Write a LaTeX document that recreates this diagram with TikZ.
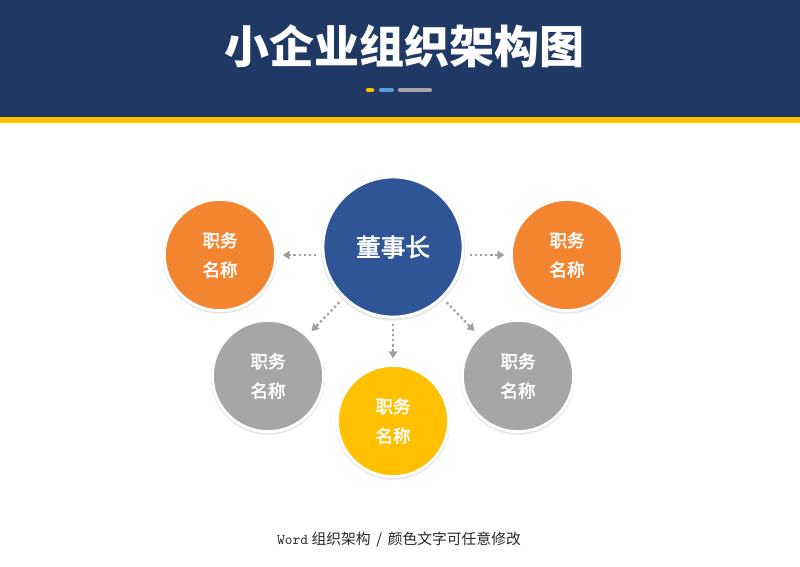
\documentclass[tikz,border=0pt]{standalone}
\usepackage{fontspec}
\setmainfont{Noto Sans CJK SC}
\newfontfamily\cjkmed[FakeBold=2.5]{Noto Sans CJK SC}
\usetikzlibrary{arrows.meta,shadows}

\definecolor{navy}{RGB}{31,56,100}
\definecolor{gold}{RGB}{255,192,0}
\definecolor{chairblue}{RGB}{47,85,151}
\definecolor{skyC}{RGB}{91,155,213}
\definecolor{orangeC}{RGB}{243,132,48}
\definecolor{grayC}{RGB}{166,166,166}
\definecolor{lineC}{RGB}{160,160,160}

\begin{document}
\begin{tikzpicture}[x=0.025cm, y=-0.025cm,
    post/.style={circle, draw=white, line width=2pt, minimum size=2.78cm,
      text=white, font=\cjkmed\fontsize{12.5}{21}\selectfont, align=center,
      drop shadow={opacity=0.2, shadow xshift=0pt, shadow yshift=-1pt, shadow scale=1.03}},
    link/.style={draw=lineC, line width=1.6pt, dotted, -{Triangle[length=5pt,width=6pt]},
      shorten <=4pt, shorten >=4pt}]
  \useasboundingbox (0,0) rectangle (800,566);

  % header band
  \fill[navy] (0,0) rectangle (800,117);
  \fill[gold] (0,117) rectangle (800,123);
  \node[text=white, font=\bfseries\fontsize{32}{36}\selectfont] (title) at (404,46) {小企业组织架构图};
  \draw[gold, line width=3pt, line cap=round] (368,90) -- (372,90);
  \draw[skyC, line width=3pt, line cap=round] (381,90) -- (392,90);
  \draw[grayC, line width=3pt, line cap=round] (400,90) -- (430,90);

  % circles
  \node[post, fill=chairblue, minimum size=3.5cm, font=\cjkmed\fontsize{17.5}{20}\selectfont] (chair) at (393,247) {董事长};
  \node[post, fill=orangeC] (left)   at (220,255) {职务\\名称};
  \node[post, fill=orangeC] (right)  at (567,255) {职务\\名称};
  \node[post, fill=grayC]   (lowl)   at (268,376) {职务\\名称};
  \node[post, fill=grayC]   (lowr)   at (518,376) {职务\\名称};
  \node[post, fill=gold]    (bottom) at (393,421) {职务\\名称};

  % connectors
  \draw[link] (chair.west |- left) -- (left);
  \draw[link] (chair.east |- right) -- (right);
  \draw[link] (chair) -- (bottom);
  \draw[link] (chair) -- (lowl);
  \draw[link] (chair) -- (lowr);

  % footer
  \node[font=\fontsize{10.5}{12}\selectfont, text=black!85] (note) at (399,540) {\texttt{Word} 组织架构 \,/\, 颜色文字可任意修改};
\end{tikzpicture}
\end{document}
